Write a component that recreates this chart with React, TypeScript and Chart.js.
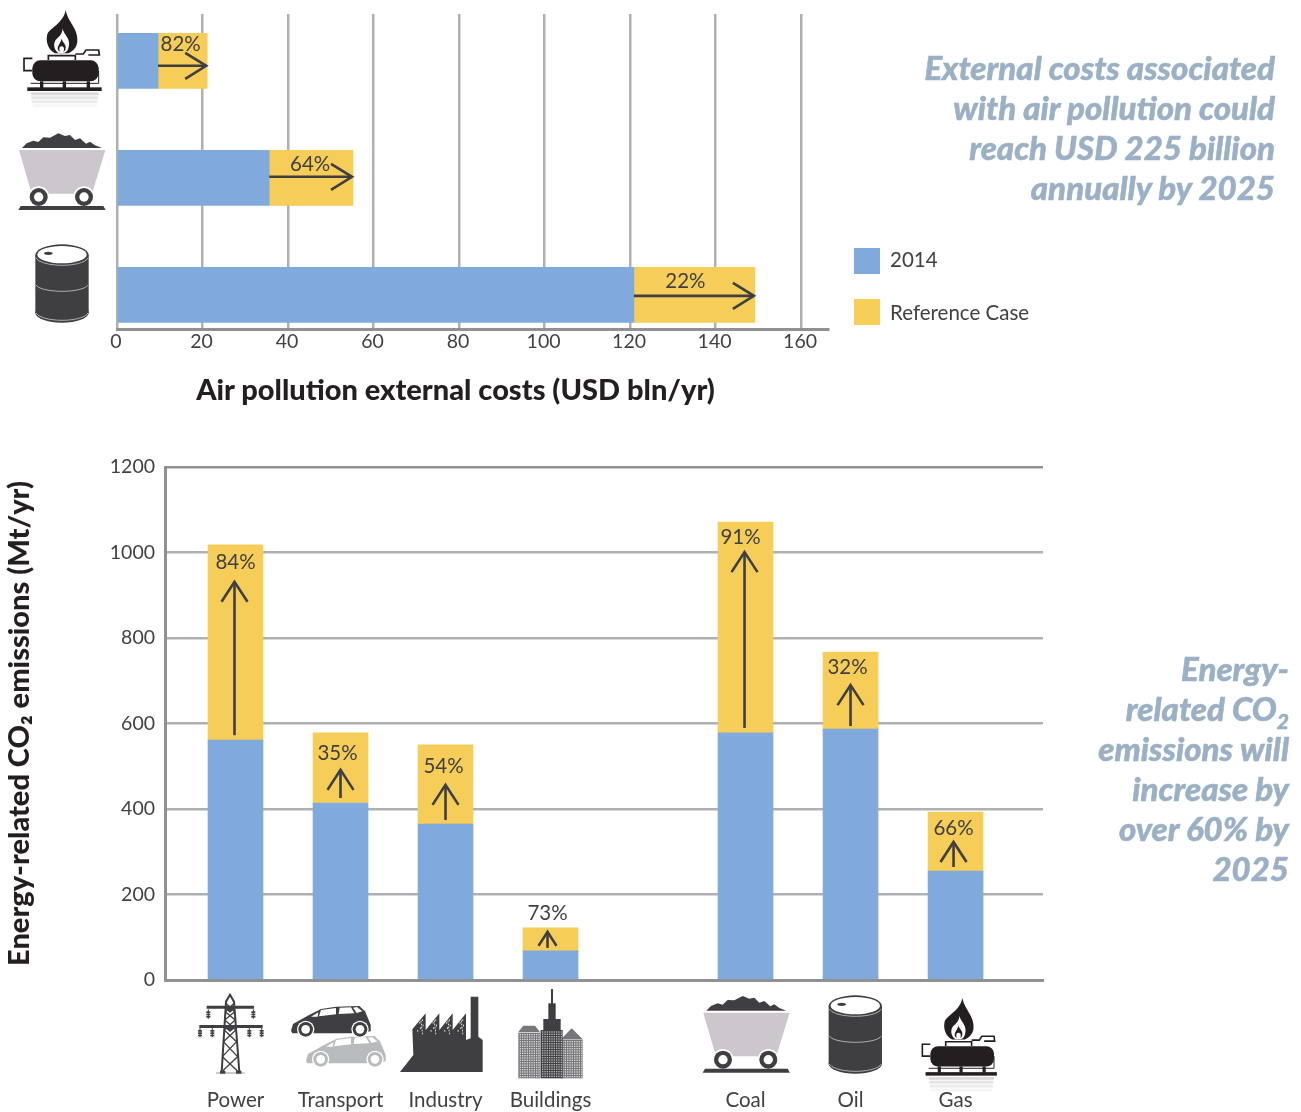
import React, { useEffect, useRef } from "react";
import { Chart, registerables } from "chart.js";

Chart.register(...registerables);

const pollutionFuels = ["Gas", "Coal", "Oil"];
const pollution2014 = [9.6, 35.6, 120.9];
const pollutionReference = [21.1, 55.2, 149.2];
const pollutionIncrease = ["82%", "64%", "22%"];
const pollutionTicks = [0, 20, 40, 60, 80, 100, 120, 140, 160];

const emissionCategories = ["Power", "Transport", "Industry", "Buildings", "Coal", "Oil", "Gas"];
const emissions2014 = [561, 414, 365, 68, 578, 587, 255];
const emissionsReference = [1018, 578, 550, 122, 1071, 767, 393];
const emissionsIncrease = ["84%", "35%", "54%", "73%", "91%", "32%", "66%"];

const seriesNames = ["2014", "Reference Case"];
const topNote = ["External costs associated", "with air pollution could", "reach USD 225 billion", "annually by 2025"];

// Sectors and fuels form two groups on the lower chart's axis.
const SECTOR_COUNT = 4;
const slotOf = (i: number) => (i < SECTOR_COUNT ? i * 7 : i * 7 + 6);

const BLUE = "#7faadb";
const YELLOW = "#f5cd58";
const GRID = "#aeb0b3";
const AXIS = "#8f9194";
const TEXT = "#414144";
const INK = "#3f3f41";
const BLACK = "#231f20";
const NOTE = "#9bb0c4";
const FONT = "Lato";

type Ctx = CanvasRenderingContext2D;

function poly(ctx: Ctx, pts: number[][], fill: string) {
  ctx.fillStyle = fill;
  ctx.beginPath();
  pts.forEach((p, i) => (i ? ctx.lineTo(p[0], p[1]) : ctx.moveTo(p[0], p[1])));
  ctx.closePath();
  ctx.fill();
}
function stroke(ctx: Ctx, pts: number[][], color: string, w: number) {
  ctx.strokeStyle = color;
  ctx.lineWidth = w;
  ctx.beginPath();
  pts.forEach((p, i) => (i ? ctx.lineTo(p[0], p[1]) : ctx.moveTo(p[0], p[1])));
  ctx.stroke();
}
function circle(ctx: Ctx, x: number, y: number, r: number, fill: string) {
  ctx.fillStyle = fill;
  ctx.beginPath();
  ctx.arc(x, y, r, 0, Math.PI * 2);
  ctx.fill();
}
function ellipse(ctx: Ctx, x: number, y: number, rx: number, ry: number, fill: string) {
  ctx.fillStyle = fill;
  ctx.beginPath();
  ctx.ellipse(x, y, rx, ry, 0, 0, Math.PI * 2);
  ctx.fill();
}
function icon(ctx: Ctx, ox: number, oy: number, s: number, draw: (c: Ctx) => void) {
  ctx.save();
  ctx.translate(ox, oy);
  ctx.scale(s, s);
  draw(ctx);
  ctx.restore();
}

function drawCart(c: Ctx) {
  poly(c, [[66,444],[80,430],[100,422],[115,426],[130,412],[150,413],[175,400],[195,408],[210,405],[225,420],[240,415],[258,431],[270,425],[285,436],[306,444]], INK);
  poly(c, [[57,450],[316,450],[276,581],[95,581]], "#cbc7cc");
  for (const x of [116, 252]) {
    circle(c, x, 591, 32, "#ffffff");
    circle(c, x, 591, 27, INK);
    circle(c, x, 591, 14, "#ffffff");
  }
  poly(c, [[62,618],[310,618],[317,630],[55,630]], INK);
}

function drawBarrel(c: Ctx) {
  c.fillStyle = INK;
  c.fillRect(106, 765, 160, 175);
  ellipse(c, 186, 938, 80, 30, INK);
  ellipse(c, 186, 765, 80, 32, INK);
  ellipse(c, 186, 764, 74, 26, "#ffffff");
  ellipse(c, 145, 760, 13, 5, INK);
  c.strokeStyle = "#e6e6e6";
  c.lineWidth = 2;
  for (const [y, ry] of [[770, 26], [852, 22], [935, 26]]) {
    c.beginPath();
    c.ellipse(186, y, 79, ry, 0, 0.05 * Math.PI, 0.95 * Math.PI);
    c.stroke();
  }
}

function drawGas(c: Ctx) {
  c.fillStyle = BLACK;
  c.beginPath();
  c.moveTo(197, 30);
  c.bezierCurveTo(205, 70, 235, 85, 232, 125);
  c.bezierCurveTo(230, 145, 215, 155, 205, 160);
  c.lineTo(165, 160);
  c.bezierCurveTo(145, 150, 136, 125, 142, 103);
  c.bezierCurveTo(148, 85, 190, 70, 197, 30);
  c.fill();
  c.fillStyle = "#ffffff";
  c.beginPath();
  c.moveTo(188, 85);
  c.bezierCurveTo(190, 105, 215, 115, 205, 145);
  c.bezierCurveTo(202, 155, 195, 159, 190, 159);
  c.lineTo(175, 159);
  c.bezierCurveTo(160, 150, 158, 125, 172, 115);
  c.bezierCurveTo(180, 108, 187, 100, 188, 85);
  c.fill();
  c.fillStyle = BLACK;
  c.beginPath();
  c.moveTo(185, 115);
  c.bezierCurveTo(185, 128, 202, 132, 196, 150);
  c.bezierCurveTo(192, 158, 178, 158, 174, 150);
  c.bezierCurveTo(170, 138, 183, 130, 185, 115);
  c.fill();
  ellipse(c, 185, 148, 7, 9, "#ffffff");
  c.fillStyle = BLACK;
  c.beginPath();
  c.roundRect(97, 181, 199, 63, 24);
  c.fill();
  stroke(c, [[97, 175], [72, 175], [72, 212], [97, 212]], BLACK, 5);
  stroke(c, [[145, 180], [145, 167], [226, 167], [226, 180]], BLACK, 5);
  stroke(c, [[226, 162], [250, 162], [258, 150], [296, 150], [298, 165], [265, 165]], BLACK, 5);
  stroke(c, [[296, 212], [296, 250], [92, 250]], BLACK, 3);
  c.fillStyle = BLACK;
  for (const x of [125, 193, 265]) c.fillRect(x - 5, 244, 10, 20);
  c.fillRect(82, 262, 223, 11);
  for (let i = 0; i < 4; i++) {
    c.fillStyle = `rgba(190,190,190,${0.55 - i * 0.13})`;
    c.fillRect(92 + i * 2, 277 + i * 12, 204 - i * 4, 9);
  }
}

function drawPylon(c: Ctx) {
  const d = INK;
  stroke(c, [[125, 306], [138, 95], [150, 74], [162, 95], [178, 306]], d, 6);
  const rows = [100, 125, 150, 180, 215, 260, 306];
  for (let i = 0; i < rows.length - 1; i++) {
    const w1 = 12 + (rows[i] - 95) * 0.065;
    const w2 = 12 + (rows[i + 1] - 95) * 0.065;
    stroke(c, [[150 - w1, rows[i]], [150 + w2, rows[i + 1]]], d, 4);
    stroke(c, [[150 + w1, rows[i]], [150 - w2, rows[i + 1]]], d, 4);
  }
  poly(c, [[80, 107], [222, 107], [222, 116], [165, 116], [150, 128], [135, 116], [80, 116]], d);
  poly(c, [[58, 165], [248, 165], [248, 174], [165, 174], [150, 186], [135, 174], [58, 174]], d);
  c.fillStyle = d;
  for (const [x, y] of [[85, 124], [220, 124], [60, 180], [97, 180], [208, 180], [245, 180]]) {
    for (let k = 0; k < 3; k++) c.fillRect(x - 6, y + k * 7, 12, 5);
    c.fillRect(x - 1.5, y - 6, 3, 28);
  }
  stroke(c, [[108, 309], [194, 309]], "#9a9a9c", 3);
  c.fillStyle = d;
  c.fillRect(120, 302, 16, 9);
  c.fillRect(168, 302, 16, 9);
}

function drawCar(c: Ctx, dx: number, dy: number, body: string) {
  poly(c, [[0,80],[6,60],[50,35],[90,15],[135,8],[205,6],[222,22],[239,62],[239,82],[200,88],[40,88],[4,88]].map(p => [p[0] + dx, p[1] + dy]), body);
  const windows = [[[60,38],[82,25],[80,38]],[[84,37],[90,18],[135,12],[135,31]],[[143,30],[146,11],[180,10],[190,28]],[[186,11],[198,9],[214,22],[197,27]]];
  windows.forEach(w => poly(c, w.map(p => [p[0] + dx, p[1] + dy]), "#ffffff"));
  for (const x of [44, 207]) {
    circle(c, x + dx, 76 + dy, 26, "#ffffff");
    circle(c, x + dx, 76 + dy, 22, body);
    circle(c, x + dx, 76 + dy, 13, "#ffffff");
  }
}
function drawCars(c: Ctx) {
  drawCar(c, 378, 192, "#b9babc");
  drawCar(c, 333, 102, INK);
}

function drawFactory(c: Ctx) {
  poly(c, [[660,306],[700,255],[697,178],[737,130],[737,180],[778,130],[778,180],[818,130],[818,180],[858,130],[858,210],[872,205],[872,80],[895,80],[895,200],[908,210],[908,306]], INK);
  c.fillStyle = "#ffffff";
  for (const x of [712, 752, 793, 833]) {
    for (let k = 0; k < 5; k++) {
      c.fillRect(x + (k % 3) * 6 + k * 2, 180 - k * 8, 2.5, 5);
      c.fillRect(x + 14 - k, 188 - k * 9, 2.5, 5);
    }
  }
}

function drawBlock(c: Ctx, x: number, y: number, w: number, h: number, bg: string, fg: string) {
  c.fillStyle = bg;
  c.fillRect(x, y, w, h);
  c.fillStyle = fg;
  for (let i = x + 4; i < x + w - 3; i += 7) {
    for (let j = y + 4; j < y + h - 3; j += 7) c.fillRect(i, j, 4, 4);
  }
}
function drawBuildings(c: Ctx) {
  poly(c, [[1015,186],[1030,167],[1065,167],[1080,186]], "#77777a");
  drawBlock(c, 1015, 188, 66, 137, "#77777a", "#d6d6d8");
  poly(c, [[1143,208],[1175,175],[1208,208]], "#77777a");
  drawBlock(c, 1143, 209, 65, 116, "#77777a", "#d6d6d8");
  c.fillStyle = INK;
  c.fillRect(1113, 57, 6, 45);
  c.fillRect(1105, 100, 22, 50);
  c.fillRect(1090, 147, 52, 35);
  drawBlock(c, 1082, 180, 66, 145, INK, "#b8b8ba");
}

function arrowHead(ctx: Ctx, pts: number[][]) {
  stroke(ctx, pts, INK, 2.6);
}

const topMarks = {
  id: "topMarks",
  afterDatasetsDraw(chart: any) {
    const { ctx, scales } = chart;
    const { x, y } = scales;
    const labelDx = [-2, -1, -9];
    const labelDy = [-16, -13, -13];
    const arrowDy = [5, -1, 1];
    ctx.save();
    ctx.font = `20.5px ${FONT}`;
    ctx.fillStyle = TEXT;
    ctx.textAlign = "center";
    ctx.textBaseline = "middle";
    pollutionFuels.forEach((_, i) => {
      const x0 = x.getPixelForValue(pollution2014[i]);
      const x1 = x.getPixelForValue(pollutionReference[i]);
      const cy = y.getPixelForValue(i);
      const ay = cy + arrowDy[i];
      ctx.fillStyle = TEXT;
      ctx.fillText(pollutionIncrease[i], (x0 + x1) / 2 + labelDx[i], cy + labelDy[i]);
      stroke(ctx, [[x0, ay], [x1 - 1, ay]], INK, 2.6);
      arrowHead(ctx, [[x1 - 22, ay - 13], [x1 - 1, ay], [x1 - 22, ay + 13]]);
    });
    ctx.restore();
  },
  afterDraw(chart: any) {
    const { ctx } = chart;
    icon(ctx, 0, 0, 1 / 3, drawGas);
    icon(ctx, 0, 0, 1 / 3, drawCart);
    icon(ctx, 0, 0, 1 / 3, drawBarrel);
  },
};

const CANVAS_B_TOP = 440;

const bottomMarks = {
  id: "bottomMarks",
  afterDatasetsDraw(chart: any) {
    const { ctx, scales } = chart;
    const { x, y } = scales;
    const labelDy = [18, 20, 22, -14, 15, 15, 16];
    const labelDx = [0, -3, -2, -3, -5, -3, -2];
    const tipDy = [37, 37, 40, 4, 30, 33, 30];
    const baseDy = [-5, -5, -4, -3, -5, -3, -4];
    const arrowDx = [-1, 0, 0, -3, -1, 0, -2];
    const headH = [20, 20, 20, 14, 20, 20, 20];
    const headW = [13, 13, 13, 9, 13, 13, 13];
    ctx.save();
    ctx.font = `20.5px ${FONT}`;
    ctx.textAlign = "center";
    ctx.textBaseline = "middle";
    emissionCategories.forEach((_, i) => {
      const cx = x.getPixelForValue(slotOf(i));
      const top = y.getPixelForValue(emissionsReference[i]);
      const low = y.getPixelForValue(emissions2014[i]);
      ctx.fillStyle = TEXT;
      ctx.fillText(emissionsIncrease[i], cx + labelDx[i], top + labelDy[i]);
      const ax = cx + arrowDx[i];
      const tip = top + tipDy[i];
      stroke(ctx, [[ax, low + baseDy[i]], [ax, tip]], INK, 2.6);
      arrowHead(ctx, [[ax - headW[i], tip + headH[i]], [ax, tip], [ax + headW[i], tip + headH[i]]]);
    });
    ctx.restore();
  },
  afterDraw(chart: any) {
    const { ctx } = chart;
    const top = -CANVAS_B_TOP;
    icon(ctx, 180, 970 + top, 1 / 3, drawPylon);
    icon(ctx, 180, 970 + top, 1 / 3, drawCars);
    icon(ctx, 180, 970 + top, 1 / 3, drawFactory);
    icon(ctx, 180, 970 + top, 1 / 3, drawBuildings);
    icon(ctx, 684.3, 862.7 + top, 1 / 3, drawCart);
    icon(ctx, 793.3, 751 + top, 1 / 3, drawBarrel);
    icon(ctx, 899.3, 988.3 + top, 0.32, drawGas);
  },
};

const noteStyle: React.CSSProperties = {
  position: "absolute",
  textAlign: "right",
  font: `italic 900 33px/40px ${FONT}`,
  color: NOTE,
  WebkitTextStroke: `0.5px ${NOTE}`,
};

export default function App() {
  const topRef = useRef<HTMLCanvasElement>(null);
  const bottomRef = useRef<HTMLCanvasElement>(null);

  useEffect(() => {
    const top = new Chart(topRef.current!, {
      type: "bar",
      plugins: [topMarks],
      data: {
        datasets: [
          {
            label: seriesNames[0],
            backgroundColor: BLUE,
            barThickness: 55,
            data: pollutionFuels.map((_, i) => ({ x: pollution2014[i], y: i })),
          },
          {
            label: seriesNames[1],
            backgroundColor: YELLOW,
            barThickness: 55,
            data: pollutionFuels.map((_, i) => ({ x: pollutionReference[i] - pollution2014[i], y: i })),
          },
        ],
      } as any,
      options: {
        indexAxis: "y",
        responsive: false,
        animation: false,
        layout: { padding: { left: 117, right: 32, top: 14, bottom: 0 } },
        plugins: { legend: { display: false }, tooltip: { enabled: false } },
        scales: {
          x: {
            type: "linear",
            stacked: true,
            min: 0,
            max: 166.3,
            afterBuildTicks(s: any) {
              s.ticks = pollutionTicks.map((value) => ({ value }));
            },
            afterFit(s: any) {
              s.height = 91;
              s.paddingLeft = 0;
              s.paddingRight = 0;
            },
            grid: { color: GRID, lineWidth: 2.5, drawTicks: false },
            border: { color: AXIS, width: 3 },
            ticks: { font: { family: FONT, size: 19.5 }, color: TEXT, padding: 1, labelOffset: -1, maxRotation: 0, autoSkip: false },
          },
          y: {
            type: "linear",
            stacked: true,
            reverse: true,
            offset: false,
            grid: { offset: false },
            min: -0.4,
            max: 2.292,
            display: false,
          },
        },
      } as any,
    });

    const bottom = new Chart(bottomRef.current!, {
      type: "bar",
      plugins: [bottomMarks],
      data: {
        datasets: [
          {
            label: seriesNames[0],
            backgroundColor: BLUE,
            barThickness: 55,
            data: emissionCategories.map((_, i) => ({ x: slotOf(i), y: emissions2014[i] })),
          },
          {
            label: seriesNames[1],
            backgroundColor: YELLOW,
            barThickness: 55,
            data: emissionCategories.map((_, i) => ({ x: slotOf(i), y: emissionsReference[i] - emissions2014[i] })),
          },
        ],
      } as any,
      options: {
        responsive: false,
        animation: false,
        layout: { padding: { left: 0, right: 17, top: 27, bottom: 0 } },
        plugins: { legend: { display: false }, tooltip: { enabled: false } },
        scales: {
          x: {
            type: "linear",
            stacked: true,
            offset: false,
            min: -4.7,
            max: 53.83,
            afterBuildTicks(s: any) {
              s.ticks = emissionCategories.map((_, i) => ({ value: slotOf(i) }));
            },
            afterFit(s: any) {
              s.height = 132;
              s.paddingLeft = 0;
              s.paddingRight = 0;
            },
            grid: { display: false, offset: false },
            border: { color: AXIS, width: 3 },
            ticks: {
              font: { family: FONT, size: 20.5 },
              color: TEXT,
              padding: 100,
              maxRotation: 0,
              autoSkip: false,
              callback: (v: number) => emissionCategories[emissionCategories.findIndex((_, i) => slotOf(i) === v)],
            },
          },
          y: {
            stacked: true,
            min: 0,
            max: 1200,
            afterFit(s: any) {
              s.width = 165;
            },
            grid: {
              color: (c: any) => (c.tick && c.tick.value === 1200 ? AXIS : GRID),
              lineWidth: 2.5,
              drawTicks: false,
            },
            border: { color: AXIS, width: 3 },
            title: {
              display: true,
              text: "Energy-related CO\u2082 emissions (Mt/yr)",
              font: { family: FONT, size: 29, weight: "900" },
              color: "#231f20",
              padding: { top: 2, bottom: 0 },
            },
            ticks: { font: { family: FONT, size: 19.5 }, color: TEXT, padding: 10, stepSize: 200, callback: (v: number) => String(v) },
          },
        },
      } as any,
    });

    return () => {
      top.destroy();
      bottom.destroy();
    };
  }, []);

  return (
    <div style={{ position: "absolute", left: 0, top: 0, width: 1301, height: 1112, overflow: "hidden", background: "#fff", fontFamily: FONT }}>
      <canvas ref={topRef} width={860} height={420} style={{ position: "absolute", left: 0, top: 0 }} />
      <canvas ref={bottomRef} width={1060} height={672} style={{ position: "absolute", left: 0, top: CANVAS_B_TOP }} />
      <div style={{ position: "absolute", left: 0, top: 369, width: 911, textAlign: "center", font: `900 29px/40px ${FONT}`, color: "#231f20" }}>
        Air pollution external costs (USD bln/yr)
      </div>
      <div style={{ ...noteStyle, left: 800, top: 47, width: 475 }}>
        {topNote.map((t) => (
          <div key={t}>{t}</div>
        ))}
      </div>
      <div style={{ ...noteStyle, left: 1050, top: 648, width: 239 }}>
        <div>Energy-</div>
        <div>
          related CO<sub style={{ fontSize: 21, lineHeight: 0 }}>2</sub>
        </div>
        <div>emissions will</div>
        <div>increase by</div>
        <div>over 60% by</div>
        <div>2025</div>
      </div>
      {seriesNames.map((name, i) => (
        <React.Fragment key={name}>
          <div style={{ position: "absolute", left: 854, top: [248, 299][i], width: 26, height: 26, background: i ? YELLOW : BLUE }} />
          <div style={{ position: "absolute", left: 890, top: [244, 297][i], font: `20.5px/30px ${FONT}`, color: TEXT }}>{name}</div>
        </React.Fragment>
      ))}
    </div>
  );
}
